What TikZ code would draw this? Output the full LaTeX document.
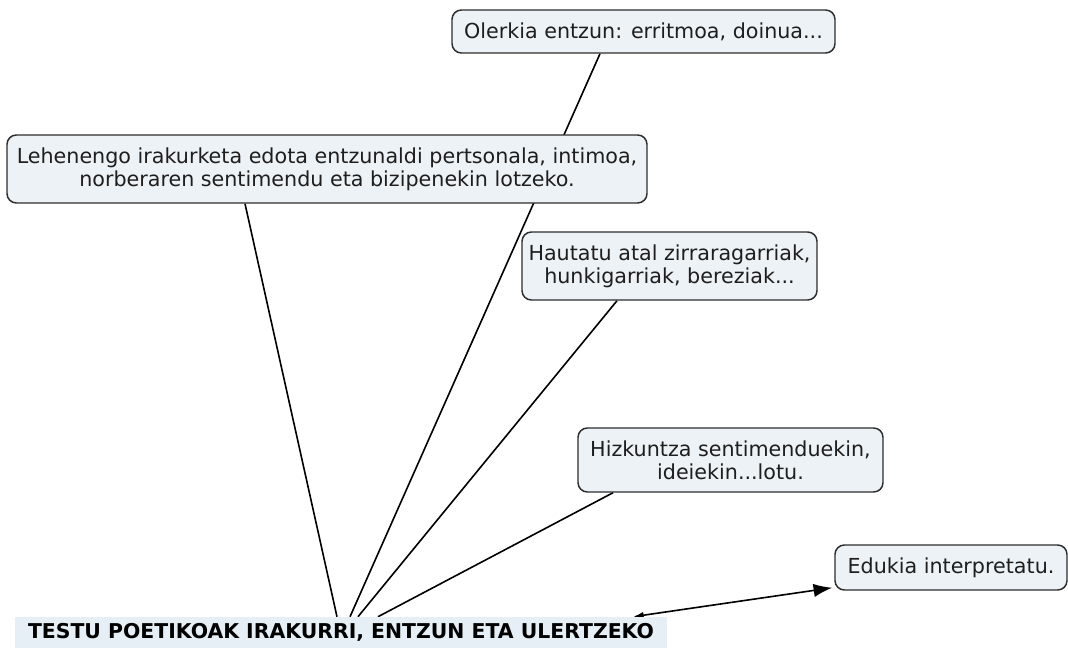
\documentclass[tikz,border=0pt]{standalone}
\usepackage{fontspec}
\setmainfont{DejaVu Sans}
\usepackage{tikz}
\usepackage{xcolor}
\usetikzlibrary{arrows.meta,calc,backgrounds}
\definecolor{BoxColor}{RGB}{237,242,246}
\definecolor{TitleColor}{RGB}{230,239,245}
\definecolor{EdgeColor}{RGB}{45,45,45}
\definecolor{TextColor}{RGB}{30,30,30}

\begin{document}
\begin{tikzpicture}[x=0.75pt, y=-0.75pt, >=Latex, font=\fontsize{15.5}{17.5}\selectfont, text=TextColor,
    bubble/.style={draw=EdgeColor, line width=1.1pt, rounded corners=7pt, fill=BoxColor, inner sep=0pt, align=center},
    link/.style={line width=1.2pt, black}]
      \useasboundingbox (0,0) rectangle (1068,648);
      \node[bubble, minimum width=383*0.75pt, minimum height=43*0.75pt] (olerkia) at (643.5,31.5) {Olerkia entzun: erritmoa, doinua...};
      \node[bubble, minimum width=640*0.75pt, minimum height=68*0.75pt] (lehen) at (327,169) {Lehenengo irakurketa edota entzunaldi pertsonala, intimoa,\\norberaren sentimendu eta bizipenekin lotzeko.};
      \node[bubble, minimum width=295*0.75pt, minimum height=68*0.75pt] (hautatu) at (669.5,266) {Hautatu atal zirraragarriak,\\hunkigarriak, bereziak...};
      \node[bubble, minimum width=305*0.75pt, minimum height=64*0.75pt] (hizkuntza) at (730.5,460) {Hizkuntza sentimenduekin,\\ideiekin...lotu.};
      \node[bubble, minimum width=232*0.75pt, minimum height=45*0.75pt] (edukia) at (951,567.5) {Edukia interpretatu.};
      \node[fill=TitleColor, text=black, inner sep=0pt, minimum width=652*0.75pt, minimum height=31*0.75pt, font=\fontsize{15.3}{17}\selectfont\bfseries] (testu) at (341,632.5) {TESTU POETIKOAK IRAKURRI, ENTZUN ETA ULERTZEKO};
      \begin{scope}[on background layer]
        \draw[link] ($(olerkia.south)+(-43.5,0)$) -- ($(testu.north)+(9,0)$);
        \draw[link] ($(lehen.south)+(-82,0)$) -- ($(testu.north)+(-4,0)$);
        \draw[link] ($(hautatu.south)+(-52.5,0)$) -- ($(testu.north)+(17,0)$);
        \draw[link] ($(hizkuntza.south)+(-117.5,0)$) -- ($(testu.north)+(37,0)$);
        \draw[link, {Latex[length=8pt,width=5pt]}-{Latex[length=14pt,width=10pt]}] ($(testu.north)+(292,0)$) -- ($(edukia.south west)+(-2,-3)$);
      \end{scope}
    \end{tikzpicture}
\end{document}
